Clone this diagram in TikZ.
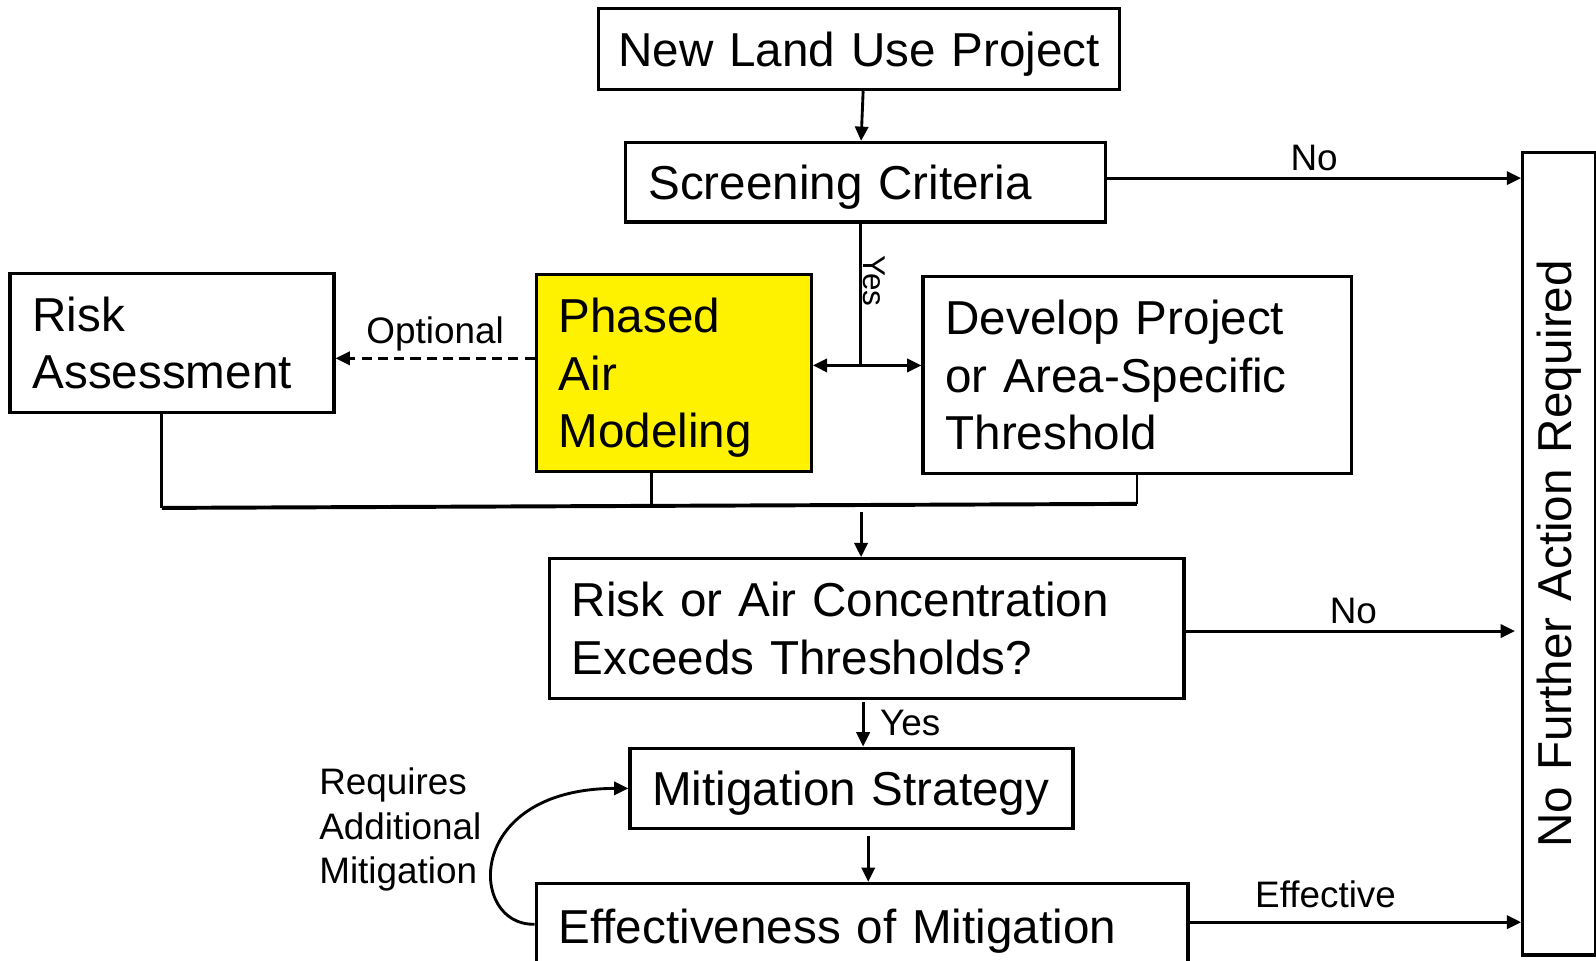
\documentclass[tikz,border=0pt]{standalone}
\usepackage{fontspec}
\setmainfont{Liberation Sans}
\usetikzlibrary{arrows.meta}

\begin{document}
\begin{tikzpicture}[x=0.01cm, y=-0.01cm,
    box/.style={draw, line width=0.9pt, inner xsep=0.22cm, inner ysep=0pt,
        align=left, font=\fontsize{13.3}{16.1}\selectfont},
    riga/.style={box, text depth=0pt},
    lab/.style={font=\fontsize{10.3}{12.5}\selectfont, inner sep=1.5pt},
    linea/.style={line width=0.8pt},
    freccia/.style={line width=0.8pt, -{Triangle[length=0.14cm, width=0.13cm]}}]

    % Area del disegno con i margini
    \useasboundingbox (0,0) rectangle (1568,944);

    % -- Blocchi --
    \node[riga, align=center, inner xsep=0.1cm, text width=4.92cm, minimum height=0.80cm] (nuovo) at (844,48) {New Land Use Project};
    \node[riga, text width=4.27cm, minimum height=0.78cm] (screening) at (850.5,179) {Screening Criteria};
    \node[box, text width=2.74cm, minimum height=1.36cm] (rischio) at (169,337) {Risk\\Assessment};
    \node[box, fill=yellow, text width=2.26cm, minimum height=1.93cm] (modello) at (662,366.5) {Phased\\Air\\\raisebox{0pt}[\height][0pt]{Modeling}};
    \node[box, text width=3.77cm, minimum height=1.93cm] (soglia) at (1117.5,368.5) {Develop Project\\or Area-Specific\\Threshold};
    \node[box, text width=5.79cm, minimum height=1.37cm] (supera) at (851.5,617.5) {Risk or Air Concentration\\Exceeds Thresholds?};
    \node[riga, text width=3.91cm, minimum height=0.79cm] (mitiga) at (836.5,774.5) {Mitigation Strategy};
    \node[riga, text width=5.96cm, minimum height=0.84cm] (efficacia) at (847,910) {Effectiveness of Mitigation};
    \node[box, rotate=90, align=center, text width=7.44cm, minimum height=0.72cm] (nessuna) at (1532,544) {No Further Action Required};

    % -- Parte alta: progetto e screening --
    \draw[freccia] ([xshift=0.04cm]nuovo.south) -- ([xshift=-0.045cm]screening.north);
    \draw[freccia] ([yshift=0.04cm]screening.east) -- ([yshift=0.04cm]screening.east -| nessuna.north)
        node[lab, above, midway] (no1) {No};

    % Ramo "Yes" verso i due blocchi
    \coordinate (bivio) at (845,359);
    \draw[linea] (bivio |- screening.south) -- (bivio);
    \draw[linea, {Triangle[length=0.14cm, width=0.13cm]}-{Triangle[length=0.14cm, width=0.13cm]}]
        (bivio -| modello.east) -- (bivio -| soglia.west);
    \node[rotate=-90, inner sep=0pt, font=\fontsize{8.8}{10}\selectfont] (si1) at (859,276) {Yes};

    % Tratteggio opzionale
    \draw[freccia, dash pattern=on 0.1cm off 0.06cm] ([yshift=0.145cm]modello.west) -- ([yshift=0.145cm]modello.west -| rischio.east)
        node[lab, above, midway] (opz) {Optional};

    % -- Raccordo dei tre blocchi --
    \coordinate (busS) at (159,499);
    \coordinate (busM) at (640,497);
    \coordinate (busD) at (1117,495);
    \draw[line width=1.1pt] (busS) -- (busD);
    \draw[linea] (rischio.south -| busS) -- (busS);
    \draw[linea] (modello.south -| busM) -- (busM);
    \draw[linea] (soglia.south -| busD) -- (busD);
    \coordinate (discesa) at (846,503);
    \draw[freccia] (discesa) -- (discesa |- supera.north);

    % -- Parte bassa: soglie e mitigazione --
    \draw[freccia, shorten >=0.06cm] ([yshift=-0.025cm]supera.east) -- ([yshift=-0.025cm]supera.east -| nessuna.north)
        node[lab, above, midway] (no2) {No};
    \draw[freccia, shorten <=0.02cm] ([xshift=-0.035cm]supera.south) -- ([xshift=-0.035cm]supera.south |- mitiga.north)
        node[lab, right, midway, xshift=0.1cm] (si2) {Yes};
    \draw[freccia, shorten <=0.06cm] ([xshift=0.165cm]mitiga.south) -- ([xshift=0.165cm]mitiga.south |- efficacia.north);
    \draw[freccia] ([yshift=0.04cm]efficacia.east) -- ([yshift=0.04cm]efficacia.east -| nessuna.north)
        node[lab, above, pos=0.41, yshift=0.07cm] (eff) {Effective};

    % Ritorno a sinistra
    \draw[freccia] ([yshift=0.02cm]efficacia.west) .. controls (460,910) and (455,775) .. (mitiga.west);
    \node[lab, align=left, anchor=west, inner sep=0pt] (richiede) at (313,815) {Requires\\Additional\\Mitigation};

\end{tikzpicture}
\end{document}
